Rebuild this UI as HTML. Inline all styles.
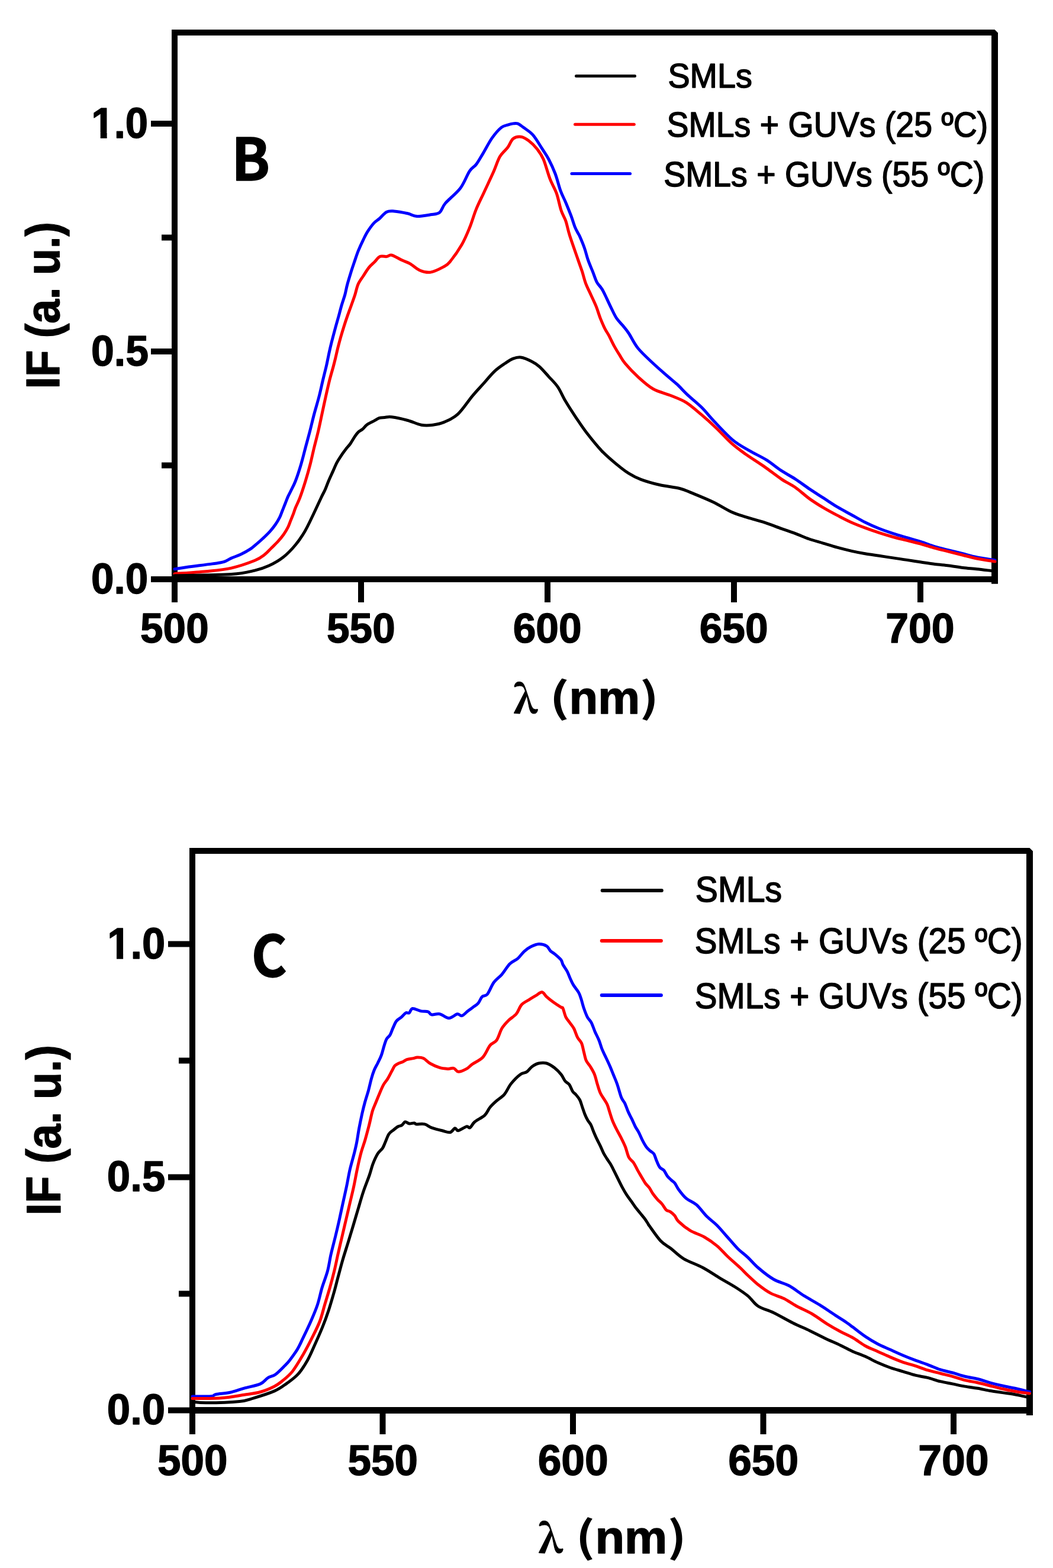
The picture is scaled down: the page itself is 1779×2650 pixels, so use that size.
<!DOCTYPE html>
<html><head><meta charset="utf-8"><title>Fluorescence spectra</title>
<style>html,body{margin:0;padding:0;background:#fff;}body{width:1779px;height:2650px;overflow:hidden;}</style>
</head><body>
<svg width="1779" height="2650" viewBox="0 0 1779 2650" style="display:block">
<rect x="0" y="0" width="1779" height="2650" fill="#fff"/>
<g fill="#000">
<rect x="290" y="50" width="10" height="934"/>
<polygon points="290,50 1680.5,50 1686,55.5 1686,986.7 1675,986.7 1675,60 290,60"/>
<rect x="290" y="974" width="1396" height="10"/>
<rect x="290" y="983" width="10" height="35"/>
<rect x="605" y="983" width="10" height="35"/>
<rect x="920" y="983" width="10" height="35"/>
<rect x="1235" y="983" width="10" height="35"/>
<rect x="1550" y="983" width="10" height="35"/>
<rect x="255" y="974" width="36" height="10"/>
<rect x="255" y="589" width="36" height="10"/>
<rect x="255" y="204" width="36" height="10"/>
<rect x="273" y="781.5" width="18" height="10"/>
<rect x="273" y="396.5" width="18" height="10"/>
</g>
<g fill="none" stroke-width="5" stroke-linejoin="round" stroke-linecap="round">
<path d="M295.0,961.7 C298.4,961.2 305.1,960.0 315.7,958.5 C326.3,957.0 348.4,954.4 358.8,952.9 C369.2,951.4 372.6,951.3 377.9,949.7 C383.2,948.1 385.9,945.5 390.7,943.4 C395.5,941.3 401.3,939.5 406.6,937.0 C411.9,934.5 417.8,931.4 422.6,928.2 C427.4,925.0 431.7,920.8 435.3,917.8 C438.9,914.8 440.7,913.2 444.1,910.0 C447.5,906.8 452.4,902.2 455.9,898.3 C459.4,894.4 462.6,890.4 465.3,886.5 C468.1,882.6 470.4,878.6 472.4,874.7 C474.4,870.8 475.5,866.9 477.1,863.0 C478.7,859.1 480.2,855.1 481.8,851.2 C483.4,847.3 484.9,842.9 486.5,839.4 C488.1,835.9 489.1,834.4 491.2,830.0 C493.3,825.6 496.3,820.5 499.2,813.0 C502.1,805.5 505.8,794.1 508.6,784.7 C511.4,775.3 513.6,765.9 516.1,756.5 C518.6,747.1 521.3,737.6 523.7,728.2 C526.1,718.8 528.1,709.8 530.7,700.0 C533.3,690.2 536.7,679.3 539.2,669.5 C541.7,659.7 543.8,649.5 545.8,641.2 C547.8,633.0 549.6,625.9 551.0,620.0 C552.4,614.1 552.9,611.2 554.0,605.9 C555.1,600.5 556.5,593.9 557.9,587.9 C559.3,581.9 560.8,575.9 562.4,569.9 C564.0,563.9 565.6,557.9 567.2,551.9 C568.9,545.9 570.6,539.9 572.3,533.9 C573.9,527.9 575.4,522.0 577.1,516.0 C578.9,510.0 581.1,504.0 582.8,498.0 C584.4,492.0 585.1,486.8 587.0,480.0 C588.9,473.2 592.0,463.3 593.9,457.1 C595.8,450.9 596.7,448.5 598.6,443.0 C600.5,437.5 602.7,430.5 605.2,424.2 C607.7,417.9 611.0,410.8 613.7,405.3 C616.4,399.8 618.2,395.9 621.2,391.2 C624.2,386.5 628.3,380.7 631.6,377.1 C634.9,373.5 637.4,372.6 641.0,369.5 C644.6,366.4 649.1,360.3 653.2,358.2 C657.3,356.1 659.8,356.6 665.7,357.0 C671.6,357.4 682.4,359.4 688.8,360.8 C695.2,362.2 697.8,365.3 704.2,365.6 C710.6,365.9 721.0,363.9 727.4,362.8 C733.8,361.7 738.6,362.1 742.8,358.9 C747.0,355.7 746.6,350.3 752.4,343.5 C758.2,336.7 771.0,327.1 777.8,318.0 C784.6,308.9 788.9,295.8 793.4,289.1 C797.9,282.4 800.8,282.7 804.5,277.9 C808.2,273.1 811.1,267.5 815.6,260.1 C820.1,252.7 826.0,240.8 831.2,233.4 C836.4,226.0 842.3,219.3 846.8,215.6 C851.2,211.9 854.6,212.3 857.9,211.2 C861.2,210.1 864.0,209.3 866.8,208.9 C869.6,208.5 871.6,207.8 874.6,208.9 C877.6,210.0 880.3,212.4 884.6,215.6 C888.9,218.8 895.0,222.0 900.2,227.9 C905.4,233.8 911.3,244.3 915.8,251.2 C920.2,258.1 923.2,261.9 926.9,269.0 C930.6,276.1 934.6,284.6 938.0,293.5 C941.4,302.4 944.0,314.2 947.0,322.4 C950.0,330.6 952.9,335.4 955.9,342.5 C958.9,349.6 962.2,357.8 964.8,364.7 C967.4,371.6 969.3,378.6 971.3,383.6 C973.3,388.6 975.6,392.2 977.0,394.9 C978.4,397.6 977.9,395.9 979.7,400.0 C981.5,404.1 985.3,413.1 987.6,419.7 C989.9,426.3 991.2,432.8 993.5,439.4 C995.8,446.0 998.9,452.9 1001.4,459.1 C1003.9,465.3 1005.7,471.9 1008.3,476.8 C1010.9,481.7 1014.3,484.0 1017.1,488.6 C1019.9,493.2 1022.4,499.0 1025.0,504.4 C1027.6,509.8 1030.1,515.5 1032.9,521.1 C1035.7,526.7 1038.4,533.0 1041.7,537.9 C1045.0,542.8 1049.1,546.4 1052.6,550.7 C1056.0,555.0 1058.2,557.2 1062.4,563.5 C1066.6,569.8 1071.0,580.1 1077.8,588.5 C1084.6,596.9 1095.2,606.4 1103.3,614.0 C1111.4,621.6 1119.4,628.4 1126.2,634.4 C1133.0,640.4 1138.1,644.2 1144.1,649.7 C1150.0,655.2 1155.1,661.2 1161.9,667.6 C1168.7,674.0 1177.2,680.4 1184.9,688.0 C1192.6,695.6 1199.0,704.1 1207.9,713.5 C1216.8,722.9 1228.7,736.0 1238.5,744.1 C1248.3,752.2 1257.2,756.4 1266.5,761.9 C1275.8,767.4 1285.7,771.6 1294.6,777.2 C1303.5,782.8 1311.8,790.0 1320.0,795.4 C1328.2,800.8 1335.7,804.5 1343.6,809.6 C1351.5,814.7 1359.3,820.8 1367.2,826.1 C1375.1,831.4 1382.9,836.3 1390.8,841.4 C1398.7,846.5 1406.5,852.0 1414.4,856.7 C1422.3,861.4 1430.1,865.4 1438.0,869.7 C1445.9,874.0 1453.7,878.8 1461.6,882.7 C1469.5,886.6 1477.3,890.1 1485.2,893.3 C1493.1,896.4 1500.9,899.0 1508.8,901.6 C1516.7,904.2 1524.5,906.4 1532.4,908.7 C1540.3,911.1 1548.1,913.2 1556.0,915.7 C1563.9,918.2 1571.7,921.6 1579.6,924.0 C1587.5,926.4 1595.3,927.9 1603.2,929.9 C1611.1,931.9 1619.0,933.8 1626.8,935.8 C1634.6,937.8 1641.3,939.9 1650.3,941.7 C1659.3,943.5 1675.9,945.9 1681.0,946.8" stroke="#0000ff"/>
<path d="M295.0,969.7 C303.8,969.0 331.7,967.3 347.6,965.7 C363.6,964.1 376.9,963.2 390.7,960.1 C404.5,957.0 421.2,951.0 430.5,947.3 C439.8,943.6 441.9,941.3 446.5,937.8 C451.1,934.3 454.3,930.4 458.2,926.5 C462.1,922.6 466.5,918.6 470.0,914.7 C473.5,910.8 476.6,906.9 479.4,903.0 C482.1,899.1 484.5,895.1 486.5,891.2 C488.5,887.3 489.6,883.3 491.2,879.4 C492.8,875.5 494.6,871.2 495.9,867.7 C497.2,864.2 497.4,862.6 499.2,858.2 C501.0,853.8 503.9,848.7 506.7,841.2 C509.5,833.7 513.2,822.4 516.1,813.0 C519.0,803.6 521.7,794.1 524.1,784.7 C526.5,775.3 528.4,765.9 530.7,756.5 C533.0,747.1 535.6,737.6 537.8,728.2 C540.0,718.8 541.8,709.8 543.9,700.0 C546.0,690.2 548.3,679.3 550.5,669.5 C552.7,659.7 555.0,649.5 557.1,641.2 C559.2,633.0 561.4,625.9 563.0,620.0 C564.6,614.1 565.3,611.2 566.6,605.9 C567.9,600.5 569.3,593.9 570.8,587.9 C572.3,581.9 573.9,575.9 575.6,569.9 C577.3,563.9 579.1,557.9 581.0,551.9 C582.9,545.9 584.9,539.9 587.0,533.9 C589.1,527.9 591.4,522.0 593.5,516.0 C595.6,510.0 597.9,503.9 599.8,498.0 C601.7,492.1 602.7,485.8 605.0,480.5 C607.3,475.2 610.7,471.2 613.7,466.5 C616.7,461.8 620.0,456.3 623.1,452.4 C626.2,448.5 629.4,446.1 632.5,443.0 C635.6,439.9 638.4,435.2 641.9,433.6 C645.4,432.0 649.9,434.0 653.2,433.6 C656.5,433.2 657.5,430.2 661.8,431.2 C666.1,432.2 674.1,437.4 679.2,439.8 C684.4,442.2 687.6,442.7 692.7,445.6 C697.8,448.5 704.2,454.8 710.0,457.2 C715.8,459.6 721.0,461.1 727.4,460.1 C733.8,459.1 743.2,454.3 748.6,451.4 C754.0,448.5 754.8,448.9 760.0,442.6 C765.2,436.3 774.4,423.3 780.0,413.7 C785.6,404.1 789.3,394.8 793.4,384.8 C797.5,374.8 800.4,363.6 804.5,353.6 C808.6,343.6 813.1,335.1 817.9,324.7 C822.7,314.3 828.9,301.3 833.4,291.3 C837.9,281.3 840.5,271.7 844.6,264.6 C848.7,257.6 854.2,254.0 857.9,249.0 C861.6,244.0 863.1,237.5 866.8,234.5 C870.5,231.5 875.8,230.6 880.2,231.2 C884.7,231.8 889.0,234.6 893.5,237.9 C898.0,241.2 902.8,246.0 906.9,251.2 C911.0,256.4 914.3,260.5 918.0,269.0 C921.7,277.5 925.5,292.8 929.2,302.4 C932.9,312.0 937.1,318.0 940.3,326.9 C943.4,335.8 945.5,348.0 948.1,355.8 C950.7,363.6 953.5,366.6 955.9,373.6 C958.3,380.7 959.0,387.1 962.5,398.1 C966.0,409.1 973.2,429.2 976.7,439.4 C980.2,449.6 981.5,452.5 983.6,459.1 C985.7,465.7 987.0,472.2 989.5,478.8 C992.0,485.4 995.4,491.9 998.4,498.5 C1001.4,505.1 1004.7,511.6 1007.3,518.2 C1009.9,524.8 1011.8,531.7 1014.2,537.9 C1016.7,544.1 1019.5,550.7 1022.0,555.6 C1024.5,560.5 1026.3,562.5 1028.9,567.4 C1031.5,572.3 1034.8,579.7 1037.8,585.1 C1040.8,590.5 1043.6,595.0 1046.7,599.9 C1049.8,604.8 1051.3,608.5 1056.5,614.7 C1061.7,620.9 1070.0,629.8 1077.8,636.9 C1085.6,644.0 1093.9,652.0 1103.3,657.3 C1112.7,662.6 1124.6,665.0 1133.9,668.8 C1143.2,672.6 1150.9,675.0 1159.4,680.3 C1167.9,685.6 1176.4,693.5 1184.9,700.7 C1193.4,707.9 1201.9,715.6 1210.4,723.7 C1218.9,731.8 1227.8,742.0 1235.9,749.2 C1244.0,756.4 1250.0,760.6 1258.9,767.0 C1267.8,773.4 1279.3,780.3 1289.5,787.4 C1299.7,794.5 1311.0,803.5 1320.0,809.6 C1329.0,815.7 1335.7,818.2 1343.6,823.7 C1351.5,829.2 1359.3,836.9 1367.2,842.6 C1375.1,848.3 1382.9,853.2 1390.8,857.9 C1398.7,862.6 1406.5,866.8 1414.4,870.9 C1422.3,875.0 1430.1,879.2 1438.0,882.7 C1445.9,886.2 1453.7,889.2 1461.6,892.1 C1469.5,895.0 1477.3,897.8 1485.2,900.4 C1493.1,903.0 1500.9,905.3 1508.8,907.5 C1516.7,909.7 1524.5,911.4 1532.4,913.4 C1540.3,915.4 1548.1,917.1 1556.0,919.3 C1563.9,921.5 1571.7,924.2 1579.6,926.4 C1587.5,928.6 1595.3,930.3 1603.2,932.3 C1611.1,934.3 1619.0,936.2 1626.8,938.2 C1634.6,940.2 1641.3,942.2 1650.3,944.0 C1659.3,945.8 1675.9,948.2 1681.0,949.0" stroke="#ff0000"/>
<path d="M295.0,972.8 C310.9,972.4 368.1,972.0 390.7,970.5 C413.3,969.0 419.9,966.5 430.5,964.1 C441.1,961.7 446.4,959.8 454.4,956.1 C462.4,952.4 470.9,947.6 478.4,941.8 C485.8,935.9 493.0,928.4 499.1,921.0 C505.2,913.6 510.2,906.3 515.2,897.7 C520.2,889.1 524.8,878.9 529.3,869.5 C533.8,860.1 539.2,848.2 542.5,841.2 C545.8,834.2 547.1,832.5 549.2,827.7 C551.3,822.9 553.1,817.5 555.3,812.4 C557.5,807.3 559.9,802.2 562.2,797.1 C564.5,792.0 566.7,786.4 569.1,781.8 C571.5,777.2 574.2,773.4 576.7,769.6 C579.2,765.8 581.9,762.2 584.4,758.9 C586.9,755.6 589.5,753.3 592.0,749.7 C594.5,746.1 597.5,740.6 599.7,737.4 C601.9,734.2 602.8,732.6 605.0,730.6 C607.2,728.6 610.2,727.4 612.7,725.2 C615.2,723.0 617.1,719.8 620.3,717.5 C623.5,715.2 628.3,713.2 631.8,711.4 C635.2,709.5 638.0,707.4 641.0,706.4 C644.0,705.4 646.5,705.8 650.0,705.5 C653.5,705.2 655.3,704.0 661.8,704.8 C668.3,705.6 680.4,708.3 688.8,710.5 C697.1,712.7 704.8,716.9 711.9,718.2 C719.0,719.5 724.8,719.0 731.2,718.2 C737.6,717.4 743.4,716.5 750.5,713.4 C757.6,710.3 765.7,707.2 773.6,699.9 C781.5,692.6 790.8,678.0 797.8,669.6 C804.8,661.2 809.3,656.6 815.6,649.6 C821.9,642.6 829.4,633.3 835.7,627.4 C842.0,621.5 848.3,617.5 853.5,614.0 C858.7,610.5 862.3,607.9 866.8,606.2 C871.2,604.5 875.0,603.2 880.2,604.0 C885.4,604.8 892.8,608.1 898.0,610.7 C903.2,613.3 906.5,615.3 911.3,619.6 C916.1,623.9 921.7,630.5 926.9,636.3 C932.1,642.0 937.8,647.2 942.5,654.1 C947.2,661.0 950.2,669.2 955.3,677.8 C960.4,686.4 967.2,696.9 973.2,705.8 C979.2,714.7 983.8,721.9 991.0,731.3 C998.2,740.6 1008.0,753.0 1016.5,761.9 C1025.0,770.8 1034.3,778.5 1042.0,784.9 C1049.7,791.3 1055.6,796.0 1062.4,800.2 C1069.2,804.5 1074.4,807.2 1082.9,810.4 C1091.4,813.6 1102.5,816.8 1113.5,819.3 C1124.5,821.8 1139.9,823.4 1149.2,825.7 C1158.5,828.1 1160.2,829.6 1169.6,833.4 C1178.9,837.2 1194.2,843.4 1205.3,848.7 C1216.3,854.0 1226.6,861.0 1235.9,865.3 C1245.2,869.5 1252.1,871.2 1261.4,874.2 C1270.8,877.2 1282.2,879.9 1292.0,883.1 C1301.8,886.3 1311.4,890.2 1320.0,893.3 C1328.6,896.4 1335.7,898.6 1343.6,901.6 C1351.5,904.6 1359.3,908.2 1367.2,911.0 C1375.1,913.8 1382.9,915.7 1390.8,918.1 C1398.7,920.5 1406.5,923.0 1414.4,925.2 C1422.3,927.4 1430.1,929.3 1438.0,931.1 C1445.9,932.9 1453.7,934.4 1461.6,935.8 C1469.5,937.2 1477.3,938.1 1485.2,939.3 C1493.1,940.5 1500.9,941.7 1508.8,942.9 C1516.7,944.1 1524.5,945.2 1532.4,946.4 C1540.3,947.6 1548.1,948.8 1556.0,950.0 C1563.9,951.2 1571.7,952.5 1579.6,953.5 C1587.5,954.5 1595.3,954.9 1603.2,955.9 C1611.1,956.9 1619.0,958.4 1626.8,959.4 C1634.6,960.4 1642.1,960.8 1650.3,961.7 C1658.5,962.6 1670.9,964.2 1676.0,964.8 C1681.1,965.4 1680.2,965.4 1681.0,965.5" stroke="#000"/>
</g>
<line x1="973.5" y1="128.4" x2="1072.5" y2="128.4" stroke="#000" stroke-width="5" stroke-linecap="round"/>
<line x1="971.5" y1="210.3" x2="1071.3" y2="210.3" stroke="#ff0000" stroke-width="5" stroke-linecap="round"/>
<line x1="965.9" y1="293.5" x2="1064.6" y2="293.5" stroke="#0000ff" stroke-width="5" stroke-linecap="round"/>
<g fill="#000">
<text transform="translate(237.05,1086.39) scale(0.9735,1)" font-family='"Liberation Sans", Arial, sans-serif' font-weight="bold" font-size="71.19" stroke="#000" stroke-width="1.40" stroke-linejoin="round">500</text>
<text transform="translate(552.05,1086.39) scale(0.9735,1)" font-family='"Liberation Sans", Arial, sans-serif' font-weight="bold" font-size="71.19" stroke="#000" stroke-width="1.40" stroke-linejoin="round">550</text>
<text transform="translate(866.63,1086.39) scale(0.9771,1)" font-family='"Liberation Sans", Arial, sans-serif' font-weight="bold" font-size="71.19" stroke="#000" stroke-width="1.40" stroke-linejoin="round">600</text>
<text transform="translate(1181.63,1086.39) scale(0.9771,1)" font-family='"Liberation Sans", Arial, sans-serif' font-weight="bold" font-size="71.19" stroke="#000" stroke-width="1.40" stroke-linejoin="round">650</text>
<text transform="translate(1496.20,1086.39) scale(0.9809,1)" font-family='"Liberation Sans", Arial, sans-serif' font-weight="bold" font-size="71.19" stroke="#000" stroke-width="1.40" stroke-linejoin="round">700</text>
<text transform="translate(153.93,1003.18) scale(0.9590,1)" font-family='"Liberation Sans", Arial, sans-serif' font-weight="bold" font-size="72.18" stroke="#000" stroke-width="1.40" stroke-linejoin="round">0.0</text>
<text transform="translate(153.90,618.27) scale(0.9553,1)" font-family='"Liberation Sans", Arial, sans-serif' font-weight="bold" font-size="73.16" stroke="#000" stroke-width="1.40" stroke-linejoin="round">0.5</text>
<g transform="translate(154.36,233.10) scale(0.9595,1)"><clipPath id="c1b" clipPathUnits="userSpaceOnUse"><rect x="-71.80" y="-143.60" width="430.81" height="134.68"/><rect x="16.01" y="-143.60" width="11.35" height="215.41"/><rect x="40.03" y="-143.60" width="430.81" height="287.21"/></clipPath><text font-family='"Liberation Sans", Arial, sans-serif' font-weight="bold" font-size="71.80" stroke="#000" stroke-width="1.40" stroke-linejoin="round" clip-path="url(#c1b)">1.0</text></g>
<text transform="translate(100.30,657.23) rotate(-90) scale(0.9278,1)" font-family='"Liberation Sans", Arial, sans-serif' font-weight="bold" font-size="79.36" stroke="#000" stroke-width="1.40" stroke-linejoin="round">IF (a. u.)</text>
<text transform="translate(867.27,1205.07) scale(1.0099,1)" font-family='"Noto Serif CJK SC", "Liberation Serif", serif' font-weight="bold" font-size="64.19" stroke="#000" stroke-width="1.00" stroke-linejoin="round">λ</text>
<text transform="translate(928.31,1203.63) scale(1.3076,1)" font-family='"Noto Sans CJK SC", "Liberation Sans", sans-serif' font-weight="bold" font-size="69.18">(</text>
<text transform="translate(961.54,1205.90) scale(1.0209,1)" font-family='"Liberation Sans", Arial, sans-serif' font-weight="bold" font-size="78.11" stroke="#000" stroke-width="1.40" stroke-linejoin="round">nm</text>
<text transform="translate(1080.76,1203.63) scale(1.2356,1)" font-family='"Noto Sans CJK SC", "Liberation Sans", sans-serif' font-weight="bold" font-size="69.18">)</text>
<text transform="translate(391.00,305.30) scale(0.9761,1)" font-family='"Noto Sans CJK SC", "Liberation Sans", sans-serif' font-weight="bold" font-size="97.98" stroke="#000" stroke-width="1.40" stroke-linejoin="round">B</text>
<text transform="translate(1128.44,147.70) scale(0.9628,1)" font-family='"Liberation Sans", Arial, sans-serif' font-weight="normal" font-size="57.85" stroke="#000" stroke-width="1.60" stroke-linejoin="round">SMLs</text>
<text transform="translate(1126.55,231.20) scale(0.9446,1)" font-family='"Liberation Sans", Arial, sans-serif' font-weight="normal" font-size="58.72" stroke="#000" stroke-width="1.60" stroke-linejoin="round">SMLs + GUVs (25 ºC)</text>
<text transform="translate(1121.25,315.10) scale(0.9455,1)" font-family='"Liberation Sans", Arial, sans-serif' font-weight="normal" font-size="58.58" stroke="#000" stroke-width="1.60" stroke-linejoin="round">SMLs + GUVs (55 ºC)</text>
</g>
<g fill="#000">
<rect x="320" y="1433" width="10" height="956"/>
<polygon points="320,1433 1739.5,1433 1745,1438.5 1745,2392 1734,2392 1734,1443 320,1443"/>
<rect x="320" y="2378" width="1425" height="11"/>
<rect x="320.0" y="2388" width="10" height="36"/>
<rect x="641.5" y="2388" width="10" height="36"/>
<rect x="963.0" y="2388" width="10" height="36"/>
<rect x="1284.5" y="2388" width="10" height="36"/>
<rect x="1606.0" y="2388" width="10" height="36"/>
<rect x="284" y="2378.5" width="37" height="10"/>
<rect x="284" y="1984.5" width="37" height="10"/>
<rect x="284" y="1590.5" width="37" height="10"/>
<rect x="302" y="2181.5" width="19" height="10"/>
<rect x="302" y="1787.5" width="19" height="10"/>
</g>
<g fill="none" stroke-width="5" stroke-linejoin="round" stroke-linecap="round">
<path d="M325.0,2360.1 C330.3,2360.0 350.2,2360.3 356.9,2359.7 C363.5,2359.1 359.6,2357.6 364.9,2356.5 C370.2,2355.4 380.8,2355.0 388.8,2353.3 C396.8,2351.6 404.2,2348.5 412.7,2346.1 C421.2,2343.7 433.1,2341.8 439.8,2338.9 C446.5,2336.0 448.4,2331.2 452.6,2328.6 C456.9,2325.9 460.6,2326.4 465.3,2323.0 C470.0,2319.6 476.9,2312.3 480.9,2308.3 C484.9,2304.3 485.8,2303.6 489.4,2298.9 C493.0,2294.2 498.8,2286.4 502.6,2280.1 C506.4,2273.8 508.2,2269.0 512.0,2261.2 C515.8,2253.3 521.1,2242.4 525.2,2233.0 C529.3,2223.6 533.4,2214.1 536.5,2204.7 C539.6,2195.3 541.2,2185.9 544.0,2176.5 C546.8,2167.1 550.9,2157.6 553.4,2148.2 C555.9,2138.8 556.9,2129.8 559.1,2120.0 C561.3,2110.2 564.3,2099.3 566.7,2089.5 C569.1,2079.7 571.2,2070.6 573.3,2061.2 C575.4,2051.8 577.3,2042.4 579.4,2033.0 C581.5,2023.6 583.6,2014.1 585.6,2004.7 C587.6,1995.3 589.0,1985.9 591.2,1976.5 C593.4,1967.1 596.8,1956.0 598.7,1948.2 C600.6,1940.5 601.5,1936.9 602.8,1930.0 C604.1,1923.1 605.2,1914.8 606.7,1906.8 C608.2,1898.8 610.1,1889.6 611.7,1882.2 C613.4,1874.8 614.8,1869.1 616.6,1862.5 C618.4,1855.9 620.7,1849.4 622.5,1842.8 C624.3,1836.2 625.8,1828.8 627.4,1823.1 C629.0,1817.3 630.5,1812.7 632.3,1808.3 C634.1,1803.9 636.3,1800.6 638.3,1796.5 C640.3,1792.4 642.4,1788.6 644.2,1783.7 C646.0,1778.8 647.6,1771.6 649.1,1767.0 C650.6,1762.4 651.4,1759.1 653.0,1756.1 C654.6,1753.1 657.1,1752.3 658.9,1749.2 C660.7,1746.1 662.1,1741.3 663.9,1737.4 C665.7,1733.5 667.3,1728.7 669.8,1725.6 C672.2,1722.5 676.0,1721.0 678.6,1718.7 C681.2,1716.4 683.4,1713.0 685.5,1711.8 C687.6,1710.6 689.5,1713.0 691.4,1711.8 C693.3,1710.6 693.7,1705.0 697.0,1704.5 C700.3,1704.0 707.0,1708.0 711.4,1708.9 C715.8,1709.8 720.2,1708.8 723.2,1709.8 C726.2,1710.8 725.8,1714.1 729.1,1714.8 C732.4,1715.5 738.0,1712.8 742.9,1713.8 C747.8,1714.8 753.7,1720.7 758.6,1720.7 C763.5,1720.7 768.8,1714.5 772.4,1713.8 C776.0,1713.1 777.4,1717.5 780.3,1716.7 C783.2,1715.9 786.9,1711.5 790.0,1709.1 C793.1,1706.7 795.9,1704.6 798.9,1702.4 C801.9,1700.2 805.2,1698.7 807.8,1695.7 C810.4,1692.7 811.9,1687.2 814.5,1684.6 C817.1,1682.0 820.1,1684.3 823.4,1680.2 C826.7,1676.1 830.4,1665.7 834.5,1660.1 C838.6,1654.5 843.4,1652.0 847.9,1646.8 C852.4,1641.6 856.8,1633.5 861.2,1629.0 C865.7,1624.5 870.5,1623.6 874.6,1620.1 C878.7,1616.6 882.0,1611.1 885.7,1607.8 C889.4,1604.5 892.7,1602.1 896.8,1600.1 C900.9,1598.1 905.8,1595.8 910.2,1595.6 C914.7,1595.4 920.2,1596.9 923.5,1598.9 C926.8,1600.9 927.9,1605.2 930.2,1607.4 C932.5,1609.6 934.3,1609.8 937.2,1612.3 C940.1,1614.8 945.4,1619.1 947.7,1622.1 C950.0,1625.1 949.5,1627.2 951.2,1630.5 C953.0,1633.8 956.1,1637.7 958.2,1641.7 C960.3,1645.8 962.0,1651.0 963.8,1654.8 C965.5,1658.6 966.4,1660.8 968.7,1664.6 C971.0,1668.4 975.5,1673.6 977.6,1677.4 C979.7,1681.2 980.0,1682.9 981.5,1687.3 C983.0,1691.7 984.6,1698.8 986.4,1704.0 C988.2,1709.2 990.2,1714.7 992.3,1718.8 C994.4,1722.9 997.1,1724.5 999.2,1728.6 C1001.3,1732.7 1003.0,1738.5 1005.1,1743.4 C1007.2,1748.3 1010.0,1753.3 1012.0,1758.2 C1014.0,1763.1 1015.0,1768.0 1017.0,1772.9 C1019.0,1777.8 1021.6,1782.8 1023.9,1787.7 C1026.2,1792.6 1028.6,1797.6 1030.7,1802.5 C1032.8,1807.4 1034.7,1812.4 1036.7,1817.3 C1038.7,1822.2 1040.4,1825.8 1042.6,1832.0 C1044.8,1838.2 1047.5,1849.4 1049.7,1854.8 C1051.9,1860.2 1053.6,1860.5 1055.6,1864.6 C1057.6,1868.7 1059.5,1875.0 1061.5,1879.4 C1063.5,1883.8 1065.4,1887.1 1067.4,1891.2 C1069.4,1895.3 1071.3,1900.2 1073.3,1904.0 C1075.3,1907.8 1077.2,1910.1 1079.2,1913.9 C1081.2,1917.7 1083.0,1922.6 1085.1,1926.7 C1087.2,1930.8 1089.7,1935.4 1092.0,1938.5 C1094.3,1941.6 1096.8,1943.4 1098.9,1945.4 C1101.0,1947.4 1103.0,1947.3 1104.8,1950.3 C1106.6,1953.2 1108.1,1959.3 1109.8,1963.1 C1111.5,1966.9 1112.7,1970.4 1114.7,1972.9 C1116.7,1975.4 1119.5,1975.4 1121.6,1977.9 C1123.7,1980.4 1125.4,1984.9 1127.5,1987.7 C1129.6,1990.5 1132.3,1992.6 1134.4,1994.6 C1136.5,1996.6 1138.0,1996.9 1140.0,1999.5 C1142.0,2002.1 1143.2,2005.9 1146.4,2010.2 C1149.6,2014.5 1154.4,2021.1 1159.4,2025.4 C1164.5,2029.7 1170.9,2031.1 1176.7,2036.2 C1182.5,2041.3 1188.3,2050.0 1194.1,2055.8 C1199.9,2061.6 1205.6,2065.1 1211.4,2070.9 C1217.2,2076.7 1223.0,2084.0 1228.8,2090.5 C1234.6,2097.0 1240.3,2104.2 1246.1,2110.0 C1251.9,2115.8 1257.7,2119.7 1263.5,2125.1 C1269.3,2130.5 1273.6,2136.3 1280.8,2142.5 C1288.0,2148.7 1298.1,2156.9 1306.8,2162.0 C1315.5,2167.1 1324.1,2168.1 1332.8,2172.8 C1341.5,2177.5 1350.2,2184.8 1358.9,2190.2 C1367.6,2195.6 1376.2,2200.0 1384.9,2205.4 C1393.6,2210.8 1403.4,2217.8 1410.9,2222.7 C1418.4,2227.6 1425.0,2231.6 1430.0,2235.0 C1435.0,2238.4 1435.7,2239.1 1441.0,2243.1 C1446.3,2247.1 1455.1,2254.2 1462.1,2258.9 C1469.1,2263.6 1476.1,2267.8 1483.1,2271.5 C1490.1,2275.2 1497.2,2277.8 1504.2,2281.0 C1511.2,2284.2 1518.2,2287.5 1525.2,2290.5 C1532.2,2293.5 1539.3,2296.3 1546.3,2298.9 C1553.3,2301.5 1560.3,2303.7 1567.3,2306.3 C1574.3,2308.9 1581.4,2312.4 1588.4,2314.7 C1595.4,2317.0 1602.4,2318.1 1609.4,2320.0 C1616.4,2321.9 1623.4,2324.6 1630.4,2326.3 C1637.4,2328.1 1644.5,2328.8 1651.5,2330.5 C1658.5,2332.2 1665.5,2334.9 1672.5,2336.8 C1679.5,2338.7 1686.6,2340.4 1693.6,2342.0 C1700.6,2343.6 1706.9,2344.6 1714.6,2346.3 C1722.2,2348.0 1735.3,2351.3 1739.5,2352.3" stroke="#0000ff"/>
<path d="M325.0,2363.6 C333.0,2363.5 358.2,2363.9 372.8,2362.8 C387.4,2361.8 401.5,2359.0 412.7,2357.3 C423.9,2355.6 431.3,2354.9 439.8,2352.5 C448.3,2350.1 457.6,2346.0 463.7,2342.9 C469.8,2339.8 471.4,2338.4 476.5,2334.2 C481.6,2330.0 488.2,2325.1 494.1,2317.7 C500.0,2310.2 506.5,2298.9 512.0,2289.5 C517.5,2280.1 522.4,2270.6 527.1,2261.2 C531.8,2251.8 536.7,2242.4 540.3,2233.0 C543.9,2223.6 545.9,2214.1 548.7,2204.7 C551.5,2195.3 554.5,2185.9 557.2,2176.5 C559.9,2167.1 562.4,2157.6 564.7,2148.2 C567.0,2138.8 568.7,2129.8 570.9,2120.0 C573.1,2110.2 575.7,2099.3 578.0,2089.5 C580.3,2079.7 582.4,2070.6 584.6,2061.2 C586.8,2051.8 589.0,2042.4 591.2,2033.0 C593.4,2023.6 595.8,2014.1 597.8,2004.7 C599.8,1995.3 601.4,1985.9 603.4,1976.5 C605.4,1967.1 607.7,1956.6 610.0,1948.2 C612.3,1939.8 614.8,1933.7 617.0,1926.0 C619.2,1918.3 621.4,1910.0 623.5,1901.9 C625.6,1893.8 627.4,1883.9 629.4,1877.3 C631.4,1870.7 633.2,1867.8 635.3,1862.5 C637.4,1857.2 640.1,1850.6 642.2,1845.7 C644.3,1840.8 646.0,1836.7 648.1,1832.9 C650.2,1829.1 652.7,1826.9 655.0,1823.1 C657.3,1819.3 659.9,1813.9 661.9,1810.3 C663.9,1806.7 665.0,1803.5 666.8,1801.4 C668.6,1799.3 670.4,1798.7 672.7,1797.5 C675.0,1796.3 678.1,1795.7 680.6,1794.5 C683.1,1793.3 684.5,1791.6 687.5,1790.6 C690.5,1789.6 695.4,1789.2 698.3,1788.6 C701.2,1788.0 702.2,1787.0 705.0,1787.0 C707.8,1787.0 711.6,1786.8 715.3,1788.6 C719.0,1790.3 722.5,1794.9 727.1,1797.5 C731.7,1800.1 738.0,1802.9 742.9,1804.4 C747.8,1805.9 752.8,1806.2 756.7,1806.4 C760.6,1806.6 763.5,1804.6 766.5,1805.4 C769.5,1806.2 770.8,1811.1 774.4,1811.3 C778.0,1811.5 784.3,1808.5 788.2,1806.4 C792.1,1804.3 793.4,1801.8 798.0,1798.5 C802.6,1795.2 810.8,1792.0 815.8,1786.7 C820.8,1781.4 823.9,1771.7 827.8,1766.9 C831.7,1762.1 835.6,1762.8 839.0,1758.0 C842.4,1753.2 844.6,1743.5 847.9,1738.0 C851.2,1732.5 854.9,1728.8 859.0,1724.7 C863.1,1720.6 868.6,1718.0 872.3,1713.5 C876.0,1709.0 877.5,1702.1 881.2,1698.0 C884.9,1693.9 890.5,1691.7 894.6,1689.1 C898.7,1686.5 902.2,1684.5 905.7,1682.4 C909.2,1680.4 912.7,1676.4 915.7,1676.8 C918.7,1677.2 920.4,1681.8 923.5,1684.6 C926.6,1687.4 930.5,1690.5 934.6,1693.5 C938.7,1696.5 945.3,1700.7 948.0,1702.4 C950.7,1704.2 949.7,1701.3 951.0,1704.0 C952.3,1706.7 953.9,1714.7 955.9,1718.8 C957.9,1722.9 960.5,1725.3 962.8,1728.6 C965.1,1731.9 967.6,1734.4 969.7,1738.5 C971.8,1742.6 973.5,1749.1 975.6,1753.2 C977.7,1757.3 980.7,1759.0 982.5,1763.1 C984.3,1767.2 985.1,1773.0 986.4,1777.9 C987.7,1782.8 988.6,1788.5 990.4,1792.6 C992.2,1796.7 995.0,1798.7 997.3,1802.5 C999.6,1806.3 1002.2,1810.4 1004.2,1815.3 C1006.2,1820.2 1007.5,1826.8 1009.1,1832.0 C1010.7,1837.2 1012.2,1842.7 1014.0,1846.8 C1015.8,1850.9 1017.9,1853.3 1019.9,1856.6 C1021.9,1859.9 1024.1,1862.7 1025.8,1866.5 C1027.5,1870.3 1028.5,1874.8 1030.0,1879.4 C1031.5,1884.0 1032.9,1889.3 1034.9,1894.2 C1036.9,1899.1 1039.3,1904.0 1041.8,1908.9 C1044.3,1913.8 1047.2,1918.8 1049.7,1923.7 C1052.2,1928.6 1054.5,1933.1 1056.6,1938.5 C1058.7,1943.9 1060.2,1951.8 1062.5,1956.2 C1064.8,1960.6 1067.9,1961.5 1070.4,1965.1 C1072.9,1968.7 1075.0,1973.8 1077.3,1977.9 C1079.6,1982.0 1082.1,1986.1 1084.2,1989.7 C1086.3,1993.3 1088.0,1996.5 1090.1,1999.5 C1092.2,2002.5 1094.9,2004.4 1097.0,2007.4 C1099.1,2010.4 1100.6,2014.0 1102.9,2017.3 C1105.2,2020.6 1108.1,2024.1 1110.7,2027.1 C1113.3,2030.0 1116.1,2032.0 1118.6,2035.0 C1121.1,2038.0 1123.2,2042.7 1125.5,2044.8 C1127.8,2046.9 1130.0,2046.2 1132.4,2047.8 C1134.8,2049.4 1137.7,2051.9 1140.0,2054.7 C1142.3,2057.5 1142.1,2060.2 1146.4,2064.4 C1150.7,2068.6 1158.7,2075.2 1165.9,2079.6 C1173.1,2083.9 1182.1,2086.2 1189.7,2090.5 C1197.3,2094.8 1204.9,2100.2 1211.4,2105.6 C1217.9,2111.0 1222.3,2116.8 1228.8,2123.0 C1235.3,2129.2 1244.6,2137.1 1250.4,2142.5 C1256.2,2147.9 1258.1,2150.4 1263.5,2155.5 C1268.9,2160.6 1276.5,2167.7 1283.0,2172.8 C1289.5,2177.9 1295.6,2182.3 1302.5,2185.9 C1309.4,2189.5 1317.0,2190.9 1324.2,2194.5 C1331.4,2198.1 1338.0,2203.2 1345.9,2207.5 C1353.9,2211.8 1363.2,2215.4 1371.9,2220.5 C1380.6,2225.6 1389.9,2232.9 1397.9,2237.9 C1405.9,2242.9 1412.8,2246.7 1420.0,2250.5 C1427.2,2254.3 1434.0,2257.0 1441.0,2261.0 C1448.0,2265.0 1455.1,2270.8 1462.1,2274.7 C1469.1,2278.6 1476.1,2281.0 1483.1,2284.2 C1490.1,2287.3 1497.2,2290.6 1504.2,2293.6 C1511.2,2296.6 1518.2,2299.6 1525.2,2302.1 C1532.2,2304.6 1539.3,2306.1 1546.3,2308.4 C1553.3,2310.7 1560.3,2313.6 1567.3,2315.7 C1574.3,2317.8 1581.4,2319.2 1588.4,2321.0 C1595.4,2322.8 1602.4,2324.4 1609.4,2326.3 C1616.4,2328.2 1623.4,2330.8 1630.4,2332.6 C1637.4,2334.3 1644.5,2335.2 1651.5,2336.8 C1658.5,2338.4 1665.5,2340.2 1672.5,2342.0 C1679.5,2343.8 1686.6,2345.7 1693.6,2347.3 C1700.6,2348.9 1706.9,2350.2 1714.6,2351.5 C1722.2,2352.8 1735.3,2354.4 1739.5,2355.0" stroke="#ff0000"/>
<path d="M325.0,2369.2 C329.0,2369.5 335.6,2370.9 348.9,2370.8 C362.2,2370.7 391.4,2369.7 404.7,2368.4 C418.0,2367.1 418.8,2365.7 428.6,2362.8 C438.4,2359.9 454.4,2355.0 463.7,2350.9 C473.0,2346.8 477.8,2342.8 484.4,2338.1 C491.0,2333.3 497.6,2328.9 503.5,2322.4 C509.4,2315.9 514.6,2307.5 519.5,2298.9 C524.4,2290.3 528.5,2280.1 532.7,2270.7 C537.0,2261.3 541.2,2251.8 545.0,2242.4 C548.8,2233.0 552.2,2223.6 555.3,2214.2 C558.4,2204.8 561.1,2195.3 563.8,2185.9 C566.5,2176.5 568.7,2167.3 571.3,2157.7 C573.9,2148.1 576.4,2138.1 579.3,2128.3 C582.1,2118.5 585.5,2108.5 588.4,2098.9 C591.3,2089.3 594.1,2080.1 596.9,2070.7 C599.7,2061.3 602.5,2051.8 605.3,2042.4 C608.1,2033.0 610.6,2023.6 613.8,2014.2 C616.9,2004.8 621.5,1993.8 624.2,1985.9 C626.9,1978.1 627.7,1973.1 630.0,1967.1 C632.3,1961.1 635.3,1954.5 638.0,1950.0 C640.7,1945.5 644.2,1943.6 646.4,1940.3 C648.6,1937.0 649.3,1934.0 651.1,1930.0 C652.9,1926.0 654.7,1920.0 657.0,1916.6 C659.3,1913.2 662.2,1911.8 664.8,1909.7 C667.4,1907.6 670.4,1905.1 672.7,1903.8 C675.0,1902.5 676.6,1903.2 678.6,1901.9 C680.6,1900.6 682.4,1896.5 684.5,1896.0 C686.6,1895.5 688.8,1898.6 691.4,1898.9 C694.0,1899.2 698.0,1897.7 700.0,1897.9 C702.0,1898.1 700.6,1899.6 703.5,1899.9 C706.4,1900.2 713.0,1898.9 717.3,1899.9 C721.6,1900.9 724.2,1904.0 729.1,1905.8 C734.0,1907.6 741.5,1909.5 746.8,1910.8 C752.0,1912.1 757.0,1914.4 760.6,1913.7 C764.2,1913.0 766.2,1907.3 768.5,1906.8 C770.8,1906.3 771.1,1911.3 774.4,1910.8 C777.7,1910.3 784.9,1904.7 788.2,1903.9 C791.5,1903.1 791.8,1907.1 794.1,1905.8 C796.4,1904.5 797.9,1899.5 802.0,1896.0 C806.1,1892.5 814.6,1889.0 818.9,1884.9 C823.2,1880.8 824.4,1875.6 827.8,1871.5 C831.1,1867.4 834.9,1864.1 839.0,1860.4 C843.1,1856.7 848.2,1854.1 852.3,1849.3 C856.4,1844.5 858.9,1837.1 863.4,1831.5 C867.9,1825.9 874.5,1819.2 879.0,1815.9 C883.5,1812.6 886.8,1813.6 890.1,1811.4 C893.4,1809.2 895.6,1804.9 899.0,1802.5 C902.4,1800.1 906.1,1797.9 910.2,1797.0 C914.3,1796.1 919.0,1795.7 923.5,1797.0 C928.0,1798.3 932.8,1801.6 936.9,1804.8 C941.0,1808.0 945.0,1812.2 948.0,1815.9 C951.0,1819.6 952.4,1824.2 954.7,1827.0 C957.0,1829.8 959.6,1830.0 961.8,1833.0 C964.0,1836.0 965.8,1842.0 967.7,1844.8 C969.6,1847.6 971.0,1847.6 973.0,1850.0 C975.0,1852.4 977.8,1855.5 979.6,1859.0 C981.4,1862.5 982.4,1867.0 983.8,1871.0 C985.2,1875.0 986.5,1879.3 988.0,1883.0 C989.5,1886.7 991.1,1890.1 992.8,1893.1 C994.5,1896.1 996.5,1897.6 998.2,1900.9 C999.9,1904.2 1001.3,1908.9 1003.0,1912.9 C1004.7,1916.9 1006.4,1920.9 1008.3,1924.9 C1010.2,1928.9 1012.4,1932.9 1014.3,1936.9 C1016.2,1940.9 1017.9,1945.4 1019.7,1948.9 C1021.5,1952.4 1023.2,1954.8 1025.1,1957.8 C1027.0,1960.8 1029.3,1963.8 1031.1,1966.8 C1032.9,1969.8 1034.1,1972.3 1035.9,1975.8 C1037.7,1979.3 1039.3,1982.5 1041.9,1987.8 C1044.5,1993.1 1048.9,2002.2 1051.7,2007.4 C1054.5,2012.6 1056.1,2015.4 1058.6,2019.2 C1061.0,2023.0 1064.0,2026.6 1066.4,2030.1 C1068.9,2033.5 1070.8,2036.6 1073.3,2039.9 C1075.8,2043.2 1078.6,2046.5 1081.2,2049.8 C1083.8,2053.1 1086.8,2056.5 1089.1,2059.6 C1091.4,2062.7 1093.7,2066.5 1095.0,2068.5 C1096.3,2070.5 1093.6,2067.1 1097.1,2071.8 C1100.6,2076.6 1110.0,2090.6 1116.0,2097.0 C1122.0,2103.4 1126.9,2104.9 1133.4,2110.0 C1139.9,2115.1 1146.0,2121.9 1155.0,2127.3 C1164.0,2132.7 1177.5,2137.1 1187.6,2142.5 C1197.7,2147.9 1206.8,2154.4 1215.8,2159.8 C1224.8,2165.2 1233.8,2169.9 1241.8,2175.0 C1249.8,2180.1 1257.0,2184.8 1263.5,2190.2 C1270.0,2195.6 1273.6,2202.8 1280.8,2207.5 C1288.0,2212.2 1297.0,2213.7 1306.8,2218.4 C1316.5,2223.1 1329.2,2230.6 1339.3,2235.7 C1349.4,2240.8 1358.5,2244.4 1367.5,2248.7 C1376.5,2253.0 1384.8,2257.5 1393.6,2261.7 C1402.3,2265.9 1412.1,2269.9 1420.0,2273.7 C1427.9,2277.4 1434.0,2281.0 1441.0,2284.2 C1448.0,2287.3 1455.1,2289.4 1462.1,2292.6 C1469.1,2295.8 1476.1,2299.9 1483.1,2303.1 C1490.1,2306.2 1497.2,2309.1 1504.2,2311.5 C1511.2,2313.9 1518.2,2315.7 1525.2,2317.8 C1532.2,2319.9 1539.3,2322.4 1546.3,2324.2 C1553.3,2326.0 1560.3,2326.7 1567.3,2328.4 C1574.3,2330.2 1581.4,2332.9 1588.4,2334.7 C1595.4,2336.4 1602.4,2337.5 1609.4,2338.9 C1616.4,2340.3 1623.4,2341.9 1630.4,2343.1 C1637.4,2344.3 1644.5,2345.1 1651.5,2346.3 C1658.5,2347.5 1665.5,2349.3 1672.5,2350.5 C1679.5,2351.7 1686.6,2352.5 1693.6,2353.6 C1700.6,2354.7 1707.7,2355.6 1714.6,2356.8 C1721.5,2358.0 1730.8,2360.2 1735.0,2361.0 C1739.2,2361.8 1738.8,2361.7 1739.5,2361.8" stroke="#000"/>
</g>
<line x1="1017.7" y1="1505" x2="1117.8" y2="1505" stroke="#000" stroke-width="6" stroke-linecap="round"/>
<line x1="1016.7" y1="1590" x2="1116.9" y2="1590" stroke="#ff0000" stroke-width="6" stroke-linecap="round"/>
<line x1="1016.7" y1="1682" x2="1116.9" y2="1682" stroke="#0000ff" stroke-width="6" stroke-linecap="round"/>
<g fill="#000">
<text transform="translate(266.10,2492.58) scale(0.9844,1)" font-family='"Liberation Sans", Arial, sans-serif' font-weight="bold" font-size="72.18" stroke="#000" stroke-width="1.40" stroke-linejoin="round">500</text>
<text transform="translate(587.60,2492.58) scale(0.9844,1)" font-family='"Liberation Sans", Arial, sans-serif' font-weight="bold" font-size="72.18" stroke="#000" stroke-width="1.40" stroke-linejoin="round">550</text>
<text transform="translate(908.66,2492.58) scale(0.9882,1)" font-family='"Liberation Sans", Arial, sans-serif' font-weight="bold" font-size="72.18" stroke="#000" stroke-width="1.40" stroke-linejoin="round">600</text>
<text transform="translate(1230.16,2492.58) scale(0.9882,1)" font-family='"Liberation Sans", Arial, sans-serif' font-weight="bold" font-size="72.18" stroke="#000" stroke-width="1.40" stroke-linejoin="round">650</text>
<text transform="translate(1551.22,2492.58) scale(0.9919,1)" font-family='"Liberation Sans", Arial, sans-serif' font-weight="bold" font-size="72.18" stroke="#000" stroke-width="1.40" stroke-linejoin="round">700</text>
<text transform="translate(180.87,2407.37) scale(0.9744,1)" font-family='"Liberation Sans", Arial, sans-serif' font-weight="bold" font-size="72.60" stroke="#000" stroke-width="1.40" stroke-linejoin="round">0.0</text>
<text transform="translate(180.87,2013.37) scale(0.9752,1)" font-family='"Liberation Sans", Arial, sans-serif' font-weight="bold" font-size="72.60" stroke="#000" stroke-width="1.40" stroke-linejoin="round">0.5</text>
<g transform="translate(181.26,1620.10) scale(0.9430,1)"><clipPath id="c1c" clipPathUnits="userSpaceOnUse"><rect x="-74.71" y="-149.42" width="448.26" height="140.19"/><rect x="16.69" y="-149.42" width="11.75" height="224.13"/><rect x="41.57" y="-149.42" width="448.26" height="298.84"/></clipPath><text font-family='"Liberation Sans", Arial, sans-serif' font-weight="bold" font-size="74.71" stroke="#000" stroke-width="1.40" stroke-linejoin="round" clip-path="url(#c1c)">1.0</text></g>
<text transform="translate(102.30,2054.34) rotate(-90) scale(0.9311,1)" font-family='"Liberation Sans", Arial, sans-serif' font-weight="bold" font-size="80.81" stroke="#000" stroke-width="1.40" stroke-linejoin="round">IF (a. u.)</text>
<text transform="translate(909.25,2624.06) scale(1.0106,1)" font-family='"Noto Serif CJK SC", "Liberation Serif", serif' font-weight="bold" font-size="65.27" stroke="#000" stroke-width="1.00" stroke-linejoin="round">λ</text>
<text transform="translate(972.49,2623.32) scale(1.2237,1)" font-family='"Noto Sans CJK SC", "Liberation Sans", sans-serif' font-weight="bold" font-size="71.21">(</text>
<text transform="translate(1005.44,2624.90) scale(1.0331,1)" font-family='"Liberation Sans", Arial, sans-serif' font-weight="bold" font-size="78.66" stroke="#000" stroke-width="1.40" stroke-linejoin="round">nm</text>
<text transform="translate(1127.80,2623.32) scale(1.1887,1)" font-family='"Noto Sans CJK SC", "Liberation Sans", sans-serif' font-weight="bold" font-size="71.21">)</text>
<text transform="translate(424.76,1650.94) scale(0.9418,1)" font-family='"Noto Sans CJK SC", "Liberation Sans", sans-serif' font-weight="bold" font-size="97.14" stroke="#000" stroke-width="1.40" stroke-linejoin="round">C</text>
<text transform="translate(1174.87,1524.10) scale(0.9505,1)" font-family='"Liberation Sans", Arial, sans-serif' font-weight="normal" font-size="60.17" stroke="#000" stroke-width="1.60" stroke-linejoin="round">SMLs</text>
<text transform="translate(1173.80,1611.40) scale(0.9386,1)" font-family='"Liberation Sans", Arial, sans-serif' font-weight="normal" font-size="60.32" stroke="#000" stroke-width="1.60" stroke-linejoin="round">SMLs + GUVs (25 ºC)</text>
<text transform="translate(1173.80,1704.00) scale(0.9341,1)" font-family='"Liberation Sans", Arial, sans-serif' font-weight="normal" font-size="60.61" stroke="#000" stroke-width="1.60" stroke-linejoin="round">SMLs + GUVs (55 ºC)</text>
</g>
</svg>
</body></html>
